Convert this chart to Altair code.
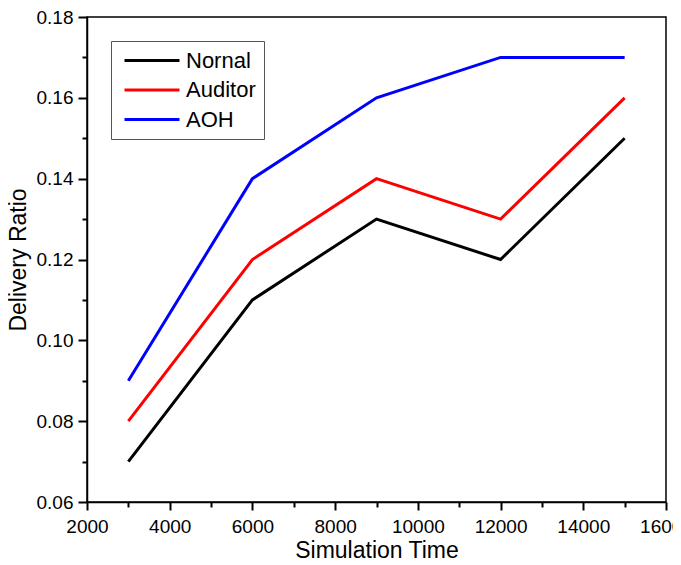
import altair as alt
import pandas as pd

# ---- data ----
times = [3000, 6000, 9000, 12000, 15000]
series_names = ["Nornal", "Auditor", "AOH"]
nornal = [0.07, 0.11, 0.13, 0.12, 0.15]
auditor = [0.08, 0.12, 0.14, 0.13, 0.16]
aoh = [0.09, 0.14, 0.16, 0.17, 0.17]
series_colors = ["#000000", "#ff0000", "#0000ff"]
x_major = [2000, 4000, 6000, 8000, 10000, 12000, 14000, 16000]
x_minor = [3000, 5000, 7000, 9000, 11000, 13000, 15000]
y_major = [0.06, 0.08, 0.10, 0.12, 0.14, 0.16, 0.18]
y_minor = [0.07, 0.09, 0.11, 0.13, 0.15, 0.17]

rows = []
for name, vals in zip(series_names, [nornal, auditor, aoh]):
    for t, v in zip(times, vals):
        rows.append({"time": t, "ratio": v, "series": name})
df = pd.DataFrame(rows)

FONT = "Liberation Sans"
x_scale = alt.Scale(domain=[2000, 16000], nice=False, zero=False)
y_scale = alt.Scale(domain=[0.06, 0.18], nice=False, zero=False)

x_axis = alt.Axis(
    orient="bottom", values=x_major, format="d", ticks=True,
    tickSize=8, tickColor="black", tickWidth=2,
    domainColor="black", domainWidth=1.5,
    labelFont=FONT, labelFontSize=19, labelColor="black", labelPadding=7,
    labelOverlap=False, labelFlush=False, grid=False,
    title="Simulation Time", titleFont=FONT, titleFontSize=23,
    titleFontWeight="normal", titleColor="black", titlePadding=3,
)
y_axis = alt.Axis(
    orient="left", values=y_major, format=".2f", ticks=True,
    tickSize=9, tickColor="black", tickWidth=2,
    domainColor="black", domainWidth=1.5,
    labelFont=FONT, labelFontSize=19, labelColor="black", labelPadding=5,
    labelOverlap=False, labelFlush=False, grid=False,
    title="Delivery Ratio", titleFont=FONT, titleFontSize=23,
    titleFontWeight="normal", titleColor="black", titlePadding=6,
)
x_minor_axis = alt.Axis(
    orient="bottom", values=x_minor, labels=False, domain=False, grid=False,
    ticks=True, tickSize=5, tickColor="black", tickWidth=2, title=None,
)
y_minor_axis = alt.Axis(
    orient="left", values=y_minor, labels=False, domain=False, grid=False,
    ticks=True, tickSize=5, tickColor="black", tickWidth=2, title=None,
)

legend = alt.Legend(
    orient="none", legendX=24, legendY=24,
    title=None,
    symbolType="M-0.6,0H4.9", symbolSize=400, symbolStrokeWidth=3,
    labelFont=FONT, labelFontSize=22, labelColor="black", labelOffset=44,
    strokeColor="#555555", padding=8, rowPadding=6.5,
)

lines = alt.Chart(df).mark_line(strokeWidth=3).encode(
    x=alt.X("time:Q", scale=x_scale, axis=x_axis),
    y=alt.Y("ratio:Q", scale=y_scale, axis=y_axis),
    color=alt.Color("series:N", sort=series_names,
                    scale=alt.Scale(domain=series_names, range=series_colors),
                    legend=legend),
)

minor = alt.Chart(df).mark_point(opacity=0).encode(
    x=alt.X("time:Q", scale=x_scale, axis=x_minor_axis),
    y=alt.Y("ratio:Q", scale=y_scale, axis=y_minor_axis),
)

chart = alt.layer(lines, minor).resolve_axis(
    x="independent", y="independent"
).properties(
    width=579, height=485,
    autosize=alt.AutoSizeParams(type="none"),
    padding={"left": 79, "top": 9, "right": 7, "bottom": 63},
).configure_view(stroke="black", strokeWidth=1.5)

chart.save("out.html", embed_options={"renderer": "svg", "actions": False})
